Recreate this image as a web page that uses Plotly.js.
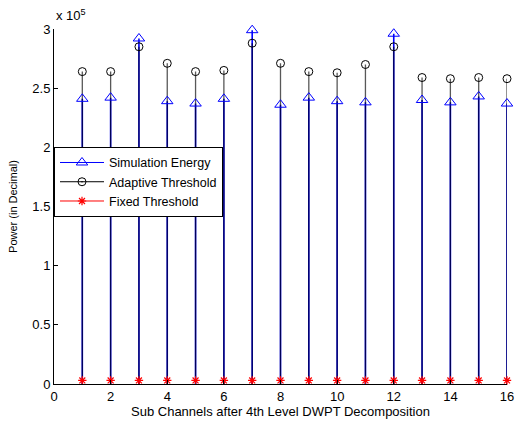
<!DOCTYPE html>
<html>
<head>
<meta charset="utf-8">
<script src="https://cdn.plot.ly/plotly-3.0.1.min.js"></script>
<style>html,body{margin:0;padding:0;background:#fff;}#chart{width:516px;height:426px;}</style>
</head>
<body>
<div id="chart"></div>
<script>
const channels = [1,2,3,4,5,6,7,8,9,10,11,12,13,14,15,16];
const simulationEnergy = [241000,242000,292000,239000,237000,241000,299000,236000,242000,239000,238000,296000,240000,238000,243000,237000];
const adaptiveThreshold = [264000,264000,285000,271000,264000,265000,288000,271000,264000,263000,270000,285000,259000,258000,259000,258000];
const fixedThreshold = [3000,3000,3000,3000,3000,3000,3000,3000,3000,3000,3000,3000,3000,3000,3000,3000];
const yTickVals = [0,50000,100000,150000,200000,250000,300000];
const yTickText = ['0','0.5','1','1.5','2','2.5','3'];
const xTickVals = [0,2,4,6,8,10,12,14,16];

function stems(xs, ys) {
  const sx = [], sy = [];
  xs.forEach((x, i) => { sx.push(x, x, null); sy.push(0, ys[i], null); });
  return {x: sx, y: sy};
}
const sSim = stems(channels, simulationEnergy);
const sAd = stems(channels, adaptiveThreshold);
const sFx = stems(channels, fixedThreshold);

const traces = [
  {x: sSim.x, y: sSim.y, mode: 'lines', line: {color: '#0000ff', width: 1.6}, showlegend: false, hoverinfo: 'skip'},
  {x: sAd.x, y: sAd.y, mode: 'lines', line: {color: '#000000', width: 1.3}, opacity: 0.65, showlegend: false, hoverinfo: 'skip'},
  {x: sFx.x, y: sFx.y, mode: 'lines', line: {color: '#ff0000', width: 1}, showlegend: false, hoverinfo: 'skip'},
  {x: channels, y: simulationEnergy, mode: 'markers', cliponaxis: false, marker: {symbol: 'triangle-up-open', size: 10, color: '#0000ff', line: {width: 1, color: '#0000ff'}}, showlegend: false},
  {x: channels, y: adaptiveThreshold, mode: 'markers', cliponaxis: false, marker: {symbol: 'circle-open', size: 8, color: '#000000', line: {width: 1, color: '#000000'}}, showlegend: false},
  {x: channels, y: fixedThreshold, mode: 'markers', cliponaxis: false, marker: {symbol: 'asterisk-open', size: 7, color: '#ff0000', line: {width: 1.2, color: '#ff0000'}}, showlegend: false},
  {x: [null], y: [null], name: 'Simulation Energy', mode: 'lines+markers', line: {color: '#0000ff', width: 1}, marker: {symbol: 'triangle-up-open', size: 10, color: '#0000ff', line: {width: 1, color: '#0000ff'}}},
  {x: [null], y: [null], name: 'Adaptive Threshold', mode: 'lines+markers', line: {color: '#000000', width: 1}, marker: {symbol: 'circle-dot', size: 8, color: 'rgba(0,0,0,0)', line: {width: 1, color: '#000000'}}},
  {x: [null], y: [null], name: 'Fixed Threshold', mode: 'lines+markers', line: {color: '#ff0000', width: 1}, marker: {symbol: 'asterisk-open', size: 7, color: '#ff0000', line: {width: 1.2, color: '#ff0000'}}}
];

const layout = {
  width: 516, height: 426,
  margin: {l: 54, r: 9, t: 29, b: 42},
  paper_bgcolor: '#ffffff', plot_bgcolor: '#ffffff',
  font: {family: 'Liberation Sans, Arial, sans-serif', size: 11, color: '#000'},
  showlegend: true,
  legend: {x: 0, xanchor: 'left', y: 0.668, yanchor: 'top', bgcolor: '#ffffff', bordercolor: '#000000', borderwidth: 1, font: {size: 12.5}, tracegroupgap: 0, itemwidth: 44},
  xaxis: {
    range: [0, 16], tickvals: xTickVals, ticks: 'inside', ticklen: 4, tickcolor: '#000',
    showline: true, linecolor: '#000', linewidth: 1, showgrid: false, zeroline: false, mirror: false,
    tickfont: {size: 13},
    title: {text: 'Sub Channels after 4th Level DWPT Decomposition', font: {size: 13}, standoff: 3}
  },
  yaxis: {
    range: [0, 300000], tickvals: yTickVals, ticktext: yTickText, ticks: 'inside', ticklen: 4, tickcolor: '#000',
    showline: true, linecolor: '#000', linewidth: 1, showgrid: false, zeroline: false, mirror: false,
    tickfont: {size: 13},
    title: {text: 'Power (in Decimal)', font: {size: 11}, standoff: 12}
  },
  annotations: [
    {xref: 'paper', yref: 'paper', x: 0, y: 1, xanchor: 'left', yanchor: 'bottom', xshift: 0, yshift: 4, showarrow: false,
     text: 'x 10<sup>5</sup>', font: {size: 13}}
  ]
};

Plotly.newPlot('chart', traces, layout, {displayModeBar: false, staticPlot: true});
</script>
</body>
</html>
